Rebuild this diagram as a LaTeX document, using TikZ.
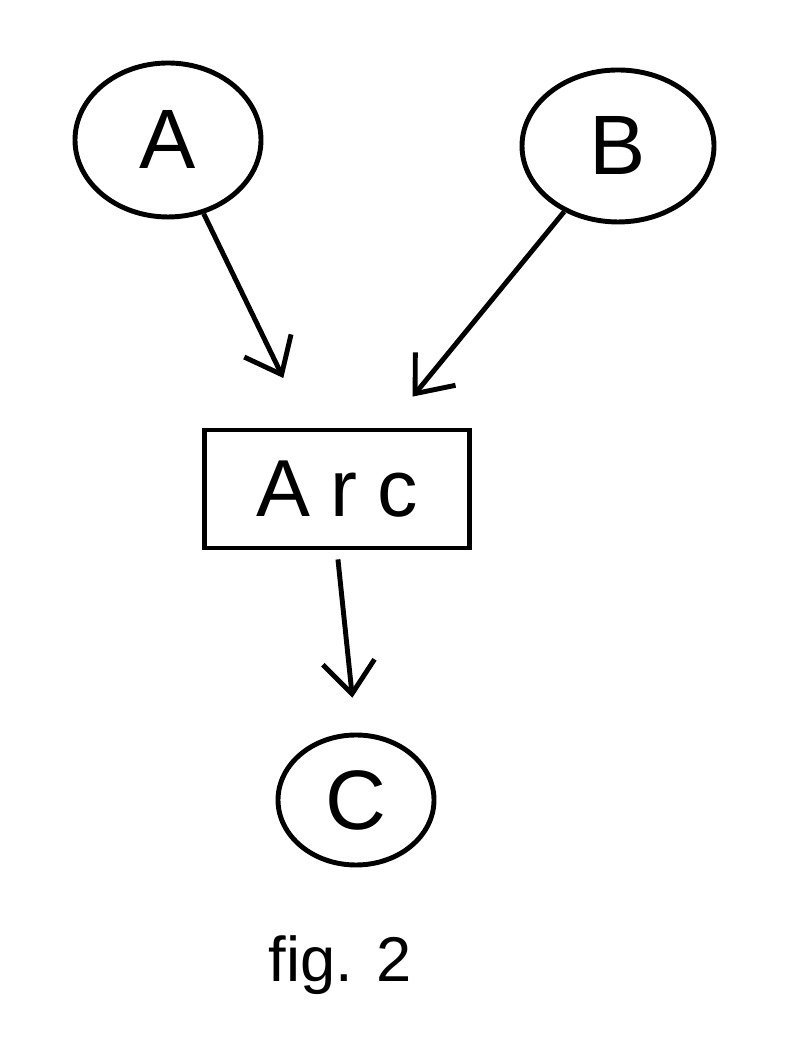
\documentclass[tikz,border=0pt]{standalone}
\usepackage{fontspec}
\setmainfont{Liberation Sans}
\usetikzlibrary{shapes.geometric,arrows.meta}

\tikzstyle{varnode} = [ellipse, draw=black, line width=1.4pt, inner sep=0pt, font=\fontsize{24}{28}\selectfont]
\tikzstyle{arcblock} = [rectangle, draw=black, line width=1.4pt, minimum width=2.65cm, minimum height=1.18cm, font=\fontsize{23}{27}\selectfont\addfontfeature{LetterSpace=25}]
\tikzstyle{flow} = [-{Straight Barb[length=3.2mm, width=5.2mm, line width=1.4pt]}, line width=1.4pt, draw=black]

\begin{document}
\begin{tikzpicture}
    \useasboundingbox[fill=white] (0,0) rectangle (7.87,10.4);

    \node (a) [varnode, minimum width=1.86cm, minimum height=1.54cm] at (1.68,9.0) {A};
    \node (b) [varnode, minimum width=1.92cm, minimum height=1.52cm] at (6.18,8.94) {B};
    \node (arc) [arcblock] at (3.37,5.51) {Arc};
    \node (c) [varnode, minimum width=1.56cm, minimum height=1.30cm] at (3.56,2.40) {C};

    \node (fig) [font=\fontsize{18}{22}\selectfont] at (3.40,0.75) {fig. 2};

    \draw [flow, shorten >=0.55cm] (a) -- (arc);
    \draw [flow, shorten >=0.40cm] (b) -- (arc);
    \draw [flow, shorten <=0.09cm, shorten >=0.35cm] (arc.south) -- (c.north);
\end{tikzpicture}
\end{document}
